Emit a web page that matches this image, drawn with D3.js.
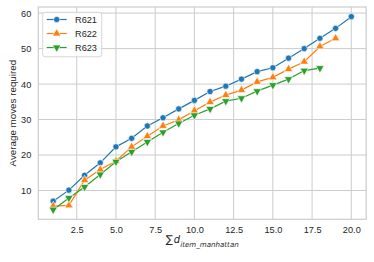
<!DOCTYPE html>
<html>
<head>
<meta charset="utf-8">
<script src="https://cdn.jsdelivr.net/npm/d3@7"></script>
<style>
	body { margin: 0; background: #fff; }
	svg { display: block; font-family: "Liberation Sans", Arial, sans-serif; }
	.grid line { stroke: #cccccc; stroke-width: 1; }
	.tick-label { fill: #262626; font-size: 9.2px; }
</style>
</head>
<body>
<svg id="chart" width="374" height="262"></svg>
<script>
// distance sums on the x axis
const distances = [1, 2, 3, 4, 5, 6, 7, 8, 9, 10, 11, 12, 13, 14, 15, 16, 17, 18, 19, 20];

// average moves per robot
const r621 = [7.0, 10.1, 14.3, 17.8, 22.3, 24.7, 28.2, 30.5, 33.0, 35.4, 37.9, 39.4, 41.4, 43.5, 44.6, 47.3, 50.0, 52.9, 55.7, 59.0];
const r622 = [5.6, 5.8, 12.9, 15.9, 18.3, 22.3, 25.3, 28.2, 29.9, 32.5, 34.9, 36.9, 38.3, 40.6, 41.9, 44.2, 46.3, 50.6, 52.9];
const r623 = [4.6, 7.9, 11.0, 14.5, 18.1, 20.9, 23.7, 26.4, 28.9, 31.2, 33.0, 35.2, 36.0, 38.0, 39.7, 41.4, 43.8, 44.5];

const seriesNames = ["R621", "R622", "R623"];
const xTicks = [2.5, 5.0, 7.5, 10.0, 12.5, 15.0, 17.5, 20.0];
const yTicks = [10, 20, 30, 40, 50, 60];

const colors = ["#1f77b4", "#ff7f0e", "#2ca02c"];
const series = [r621, r622, r623].map((vals, i) => ({
	name: seriesNames[i],
	color: colors[i],
	points: vals.map((v, j) => ({ x: distances[j], y: v }))
}));

const svg = d3.select("svg#chart");
const bounds = { minX: 38.3, maxX: 366.2, minY: 7, maxY: 219.3 };

// matplotlib style 5% margins around the data
function padded(extent) {
	const pad = (extent[1] - extent[0]) * 0.05;
	return [extent[0] - pad, extent[1] + pad];
}

const scaleX = d3.scaleLinear()
	.domain(padded(d3.extent(distances)))
	.range([bounds.minX, bounds.maxX]);
const scaleY = d3.scaleLinear()
	.domain(padded(d3.extent([...r621, ...r622, ...r623])))
	.range([bounds.maxY, bounds.minY]);

// grid
const grid = svg.append("g").attr("class", "grid");
grid.selectAll("line.gx").data(xTicks).join("line")
	.attr("x1", d => scaleX(d)).attr("x2", d => scaleX(d))
	.attr("y1", bounds.minY).attr("y2", bounds.maxY);
grid.selectAll("line.gy").data(yTicks).join("line")
	.attr("class", "gy")
	.attr("x1", bounds.minX).attr("x2", bounds.maxX)
	.attr("y1", d => scaleY(d)).attr("y2", d => scaleY(d));

svg.append("rect")
	.attr("x", bounds.minX).attr("y", bounds.minY)
	.attr("width", bounds.maxX - bounds.minX)
	.attr("height", bounds.maxY - bounds.minY)
	.attr("fill", "none").attr("stroke", "#cccccc").attr("stroke-width", 1.2);

// axes (no tick marks, just labels)
const xAxis = d3.axisBottom(scaleX).tickValues(xTicks).tickFormat(d3.format(".1f")).tickSize(0).tickPadding(7);
svg.append("g")
	.attr("transform", `translate(0 ${bounds.maxY})`)
	.call(xAxis)
	.call(g => g.select(".domain").remove())
	.selectAll("text").attr("class", "tick-label").attr("font-family", null).attr("font-size", null);

const yAxis = d3.axisLeft(scaleY).tickValues(yTicks).tickSize(0).tickPadding(7);
svg.append("g")
	.attr("transform", `translate(${bounds.minX} 0)`)
	.call(yAxis)
	.call(g => g.select(".domain").remove())
	.selectAll("text").attr("class", "tick-label").attr("font-family", null).attr("font-size", null);

// markers
const markerPath = [
	d3.symbol(d3.symbolCircle, 30)(),
	d3.symbol(d3.symbolTriangle, 30)(),
	d3.symbol(d3.symbolTriangle, 30)()
];
const markerRotate = [0, 0, 180];

const line = d3.line().x(d => scaleX(d.x)).y(d => scaleY(d.y));

const lines = svg.append("g").selectAll("g").data(series).join("g");
lines.append("path")
	.attr("d", d => line(d.points))
	.attr("fill", "none")
	.attr("stroke", d => d.color)
	.attr("stroke-width", 1.2);
lines.each(function(s, i) {
	d3.select(this).selectAll("path.m").data(s.points).join("path")
		.attr("class", "m")
		.attr("d", markerPath[i])
		.attr("transform", d => `translate(${scaleX(d.x)} ${scaleY(d.y)}) rotate(${markerRotate[i]})`)
		.attr("fill", s.color)
		.attr("stroke", "#fff")
		.attr("stroke-width", 0.6);
});

// legend
const legend = svg.append("g");
legend.append("rect")
	.attr("x", 42.7).attr("y", 12.3).attr("width", 59).attr("height", 44.5)
	.attr("rx", 2.5)
	.attr("fill", "#fff").attr("fill-opacity", 0.8)
	.attr("stroke", "#cccccc").attr("stroke-width", 0.8);
const items = legend.selectAll("g").data(series).join("g")
	.attr("transform", (d, i) => `translate(0 ${19.5 + i * 14})`);
items.append("line")
	.attr("x1", 46.7).attr("x2", 66.7)
	.attr("stroke", d => d.color).attr("stroke-width", 1.2);
items.append("path")
	.attr("d", (d, i) => markerPath[i])
	.attr("transform", (d, i) => `translate(56.7 0) rotate(${markerRotate[i]})`)
	.attr("fill", d => d.color)
	.attr("stroke", "#fff").attr("stroke-width", 0.6);
items.append("text")
	.attr("x", 75).attr("dy", "0.35em")
	.attr("class", "tick-label")
	.text(d => d.name);

// axis titles
svg.append("text")
	.attr("transform", `translate(12.5 ${(bounds.minY + bounds.maxY) / 2}) rotate(-90)`)
	.attr("text-anchor", "middle").attr("dy", "0.35em")
	.attr("fill", "#262626").attr("font-size", "9.8px")
	.text("Average moves required");

const xTitle = svg.append("text")
	.attr("x", (bounds.minX + bounds.maxX) / 2).attr("y", 243)
	.attr("text-anchor", "middle")
	.attr("fill", "#262626")
	.attr("font-family", "DejaVu Sans");
xTitle.append("tspan").attr("font-size", "10.5px").text("∑");
xTitle.append("tspan").attr("font-size", "10px").attr("font-style", "italic").attr("dx", 1).text("d");
xTitle.append("tspan").attr("font-size", "7.1px").attr("font-style", "italic").attr("dy", 3.5).text("item_manhattan");
</script>
</body>
</html>
